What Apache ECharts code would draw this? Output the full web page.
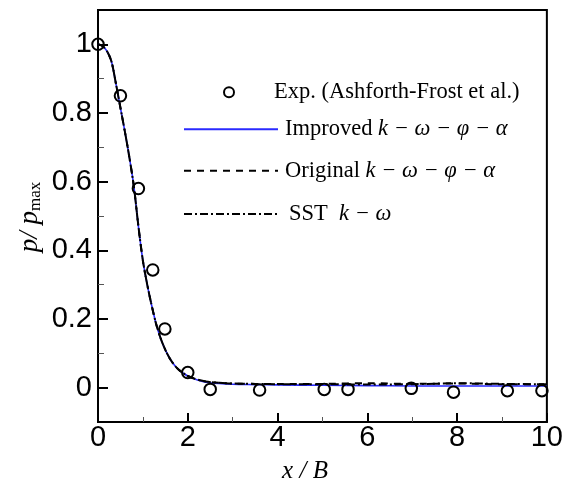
<!DOCTYPE html>
<html>
<head>
<meta charset="utf-8">
<script src="https://cdn.jsdelivr.net/npm/echarts@6/dist/echarts.min.js"></script>
<style>
html,body{margin:0;padding:0;background:#fff;}
#chart{width:566px;height:490px;}
</style>
</head>
<body>
<div id="chart"></div>
<script>
// ---- data ----
const expX = [0, 0.5, 0.9, 1.22, 1.49, 2.0, 2.5, 3.6, 5.04, 5.57, 6.98, 7.92, 9.12, 9.89];
const expY = [1.0, 0.85, 0.58, 0.343, 0.171, 0.044, -0.005, -0.007, -0.005, -0.005, -0.002, -0.013, -0.009, -0.009];

const xCurve    = [0, 0.1, 0.2, 0.3, 0.4, 0.5, 0.6, 0.7, 0.8, 0.9, 1.0, 1.1, 1.2, 1.3, 1.4, 1.5, 1.6, 1.7, 1.8, 1.9, 2.0, 2.2, 2.4, 2.7, 3.0, 3.5, 4, 5, 6, 7, 8, 9, 10];
const yImproved = [1.0, 0.995, 0.98, 0.95, 0.885, 0.815, 0.745, 0.67, 0.585, 0.47, 0.37, 0.298, 0.237, 0.183, 0.142, 0.11, 0.085, 0.066, 0.052, 0.042, 0.034, 0.023, 0.016, 0.012, 0.010, 0.009, 0.008, 0.007, 0.006, 0.005, 0.005, 0.005, 0.005];
const yOriginal = [1.0, 0.995, 0.98, 0.95, 0.885, 0.815, 0.745, 0.67, 0.585, 0.47, 0.37, 0.298, 0.237, 0.183, 0.142, 0.11, 0.085, 0.066, 0.052, 0.042, 0.034, 0.024, 0.018, 0.014, 0.012, 0.011, 0.011, 0.011, 0.013, 0.011, 0.012, 0.010, 0.010];
const ySST      = [1.0, 0.995, 0.98, 0.95, 0.885, 0.815, 0.745, 0.67, 0.585, 0.47, 0.37, 0.298, 0.237, 0.183, 0.142, 0.11, 0.085, 0.066, 0.052, 0.042, 0.034, 0.024, 0.018, 0.014, 0.012, 0.011, 0.010, 0.010, 0.009, 0.010, 0.013, 0.011, 0.010];

const yMajorTicks = [0, 0.2, 0.4, 0.6, 0.8, 1];
const yMinorTicks = [0.1, 0.3, 0.5, 0.7, 0.9];

const legendLabels = {
  Exp: '{p35|}{r|Exp. (Ashforth-Frost et al.)}',
  Improved: '{p2|}{r|Improved }{m|k − ω − φ − α}',
  Original: '{p2|}{r|Original }{m|k − ω − φ − α}',
  SST: '{p6|}{r|SST  }{m|k − ω}'
};

// ---- chart ----
const chart = echarts.init(document.getElementById('chart'), null, {renderer: 'canvas'});
const pair = (xs, ys) => xs.map((x, i) => [x, ys[i]]);

const richText = {
  r: {fontFamily: 'Liberation Serif', fontSize: 22.5, color: '#000', lineHeight: 14},
  m: {fontFamily: 'Liberation Serif', fontStyle: 'italic', fontSize: 22.5, color: '#000', lineHeight: 14},
  p2: {width: 2, lineHeight: 14},
  p6: {width: 6, lineHeight: 14},
  p35: {width: 35, lineHeight: 14}
};
function mkLegend(name, left, top, w, h, hideSymbol) {
  const l = {
    data: [name], left: left, top: top, itemWidth: w, itemHeight: h,
    padding: 0, selectedMode: false, orient: 'vertical',
    formatter: () => legendLabels[name],
    textStyle: {rich: richText, fontFamily: 'Liberation Serif', fontSize: 22.5, color: '#000', lineHeight: 14}
  };
  if (hideSymbol) l.itemStyle = {opacity: 0};
  return l;
}

const option = {
  animation: false,
  backgroundColor: '#fff',
  grid: {left: 98, right: 18, top: 10, bottom: 68, show: true, borderColor: '#000', borderWidth: 2, backgroundColor: 'transparent'},
  legend: [
    mkLegend('Exp', 223, 80.7, 10, 10, false),
    mkLegend('Improved', 183, 117.8, 94, 14, true),
    mkLegend('Original', 183, 159.3, 94, 14, true),
    mkLegend('SST', 183, 202.5, 94, 14, true)
  ],
  xAxis: {
    type: 'value', min: 0, max: 10, interval: 2,
    axisLine: {show: true, onZero: false, lineStyle: {color: '#000', width: 2}},
    axisTick: {show: true, inside: true, length: 9, lineStyle: {color: '#000', width: 2}},
    minorTick: {show: true, splitNumber: 2, length: 5, lineStyle: {color: '#555', width: 1}},
    splitLine: {show: false}, minorSplitLine: {show: false},
    axisLabel: {fontFamily: 'Liberation Sans', fontSize: 29, color: '#000', margin: 1}
  },
  yAxis: [
    {
      type: 'value', min: -0.1, max: 1.1, position: 'left',
      axisLine: {show: true, onZero: false, lineStyle: {color: '#000', width: 2}},
      axisTick: {show: true, inside: true, length: 10, customValues: yMajorTicks, lineStyle: {color: '#000', width: 2}},
      splitLine: {show: false},
      axisLabel: {fontFamily: 'Liberation Sans', fontSize: 29, color: '#000', margin: 6, customValues: yMajorTicks}
    },
    {
      type: 'value', min: -0.1, max: 1.1, position: 'left',
      axisLine: {show: false, onZero: false},
      axisTick: {show: true, inside: true, length: 6, customValues: yMinorTicks, lineStyle: {color: '#555', width: 1}},
      splitLine: {show: false},
      axisLabel: {show: false, customValues: yMinorTicks}
    }
  ],
  series: [
    {
      name: 'Improved', type: 'line', data: pair(xCurve, yImproved), smooth: 0.3, symbol: 'none', z: 2,
      lineStyle: {color: '#2a2aff', width: 1.6}, itemStyle: {color: '#2a2aff'}
    },
    {
      name: 'Original', type: 'line', data: pair(xCurve, yOriginal), smooth: 0.3, symbol: 'none', z: 3,
      lineStyle: {color: '#000', width: 2, type: [7, 6]}, itemStyle: {color: '#000'}
    },
    {
      name: 'SST', type: 'line', data: pair(xCurve, ySST), smooth: 0.3, symbol: 'none', z: 4,
      lineStyle: {color: '#000', width: 2, type: [8, 3, 2, 3]}, itemStyle: {color: '#000'}
    },
    {
      name: 'Exp', type: 'scatter', data: pair(expX, expY), symbol: 'circle', symbolSize: 11.5, clip: false, z: 5,
      itemStyle: {color: 'rgba(255,255,255,0)', borderColor: '#000', borderWidth: 2, opacity: 1}
    }
  ],
  graphic: [
    {
      type: 'text', x: 30, y: 217, rotation: Math.PI / 2,
      style: {
        text: '{i|p}{n|/ }{i|p}{s|max}', align: 'center', verticalAlign: 'middle',
        rich: {
          i: {fontFamily: 'Liberation Serif', fontStyle: 'italic', fontSize: 27, fill: '#000'},
          n: {fontFamily: 'Liberation Serif', fontStyle: 'italic', fontSize: 27, fill: '#000'},
          s: {fontFamily: 'Liberation Serif', fontSize: 17, fill: '#000', padding: [12, 0, 0, 0]}
        }
      }
    },
    {
      type: 'text', x: 305, y: 471.7,
      style: {
        text: 'x / B', align: 'center', verticalAlign: 'middle',
        fontFamily: 'Liberation Serif', fontStyle: 'italic', fontSize: 25, fill: '#000'
      }
    }
  ]
};
chart.setOption(option);
</script>
</body>
</html>
